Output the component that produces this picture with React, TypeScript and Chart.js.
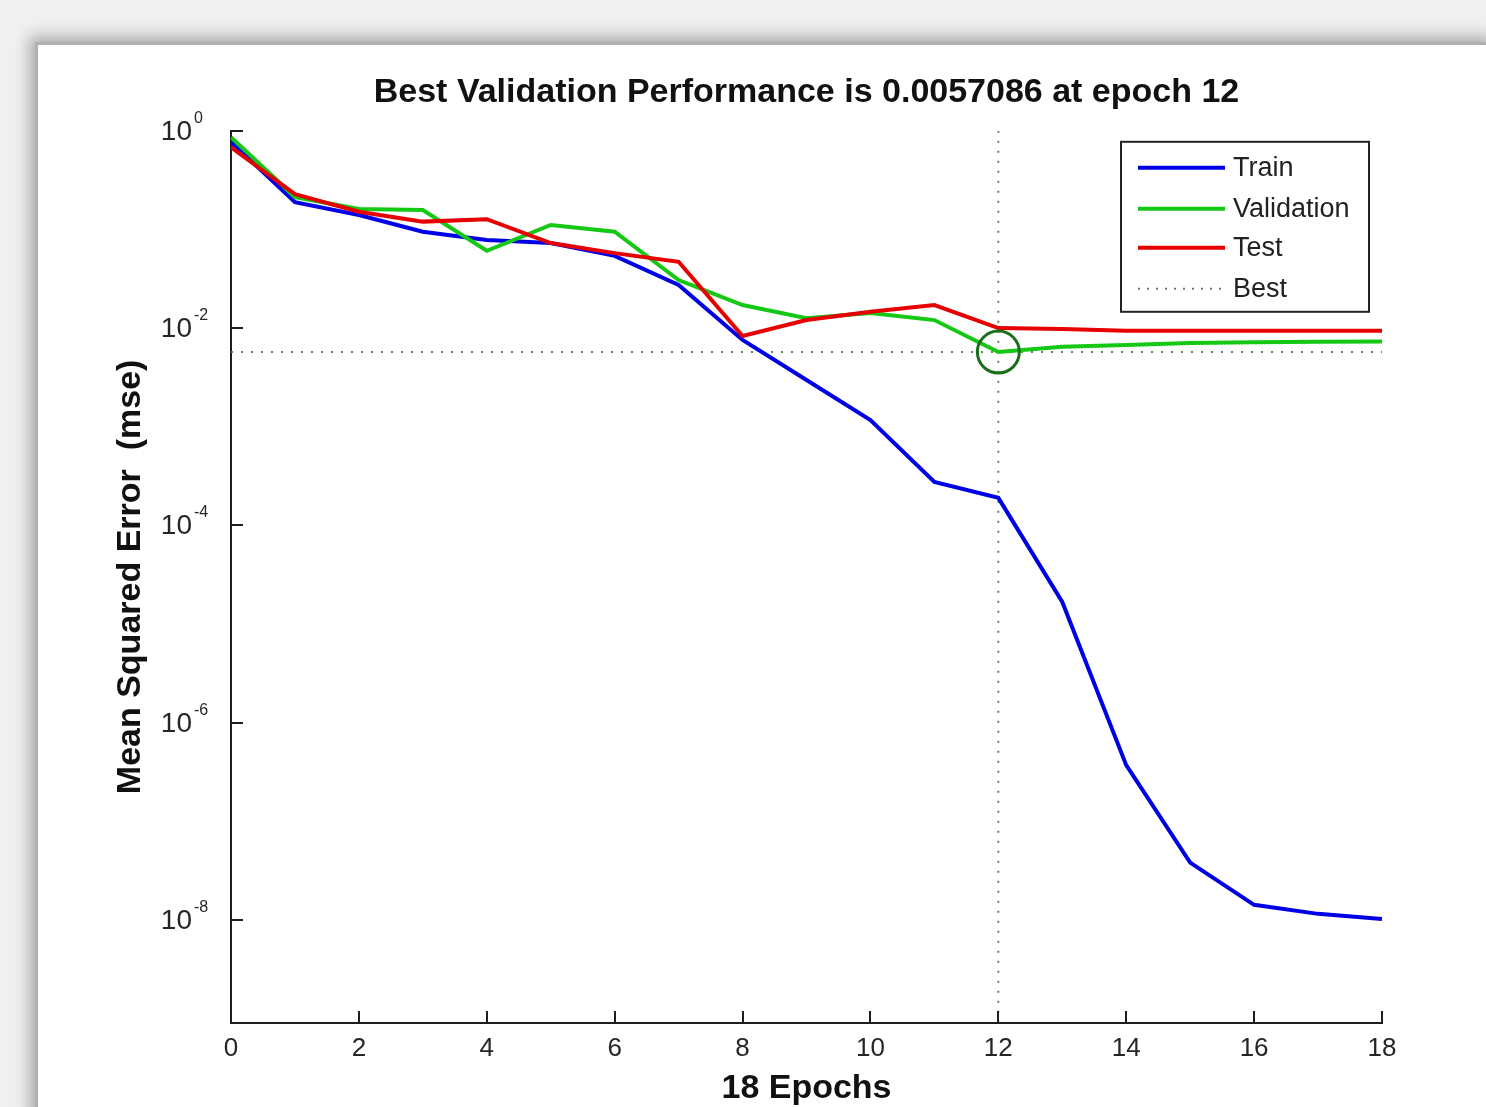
import React, { useEffect, useRef } from 'react';
import { Chart, registerables } from 'chart.js';

Chart.register(...registerables);

// ---- data ----
const epochs = [0, 1, 2, 3, 4, 5, 6, 7, 8, 9, 10, 11, 12, 13, 14, 15, 16, 17, 18];
const trainMse = [0.77, 0.189, 0.14, 0.0947, 0.078, 0.0727, 0.054, 0.0273, 0.00757, 0.00297, 0.00117, 0.000275, 0.00019, 1.67e-5, 3.7e-7, 3.8e-8, 1.42e-8, 1.15e-8, 1.02e-8];
const validationMse = [0.86, 0.213, 0.161, 0.157, 0.0608, 0.111, 0.0947, 0.0307, 0.0171, 0.0126, 0.0142, 0.01205, 0.0057086, 0.00647, 0.00673, 0.00705, 0.0072, 0.00727, 0.0073];
const testMse = [0.68, 0.228, 0.151, 0.12, 0.127, 0.0727, 0.0575, 0.047, 0.0083, 0.01205, 0.01466, 0.0171, 0.01, 0.0098, 0.0094, 0.0094, 0.0094, 0.0094, 0.0094];
const bestEpoch = 12;
const bestPerf = 0.0057086;
const xTicks = [0, 2, 4, 6, 8, 10, 12, 14, 16, 18];
const yTickValues = [1e-8, 1e-6, 1e-4, 1e-2, 1];
const yTickBase = '10';
const yTickExponents = ['-8', '-6', '-4', '-2', '0'];
const legendLabels = ['Train', 'Validation', 'Test', 'Best'];
const titleText = 'Best Validation Performance is 0.0057086 at epoch 12';
const xTitle = '18 Epochs';
const yTitle = 'Mean Squared Error  (mse)';
const xMin = 0;
const xMax = 18;
const yMin = 9e-10;
const yMax = 1;

const FONT = "'Liberation Sans', Arial, Helvetica, sans-serif";
const BLUE = '#0000e6';
const GREEN = '#14c814';
const RED = '#e60000';
const BEST = 'rgba(70,125,70,0.9)';
const AXIS = '#1e1e1e';
const TICK_TEXT = '#262626';

export default function App() {
  const ref = useRef<HTMLCanvasElement>(null);

  useEffect(() => {
    const canvas = ref.current!;
    const toXY = (arr: number[]) => epochs.map((e, i) => ({ x: e, y: arr[i] }));

    const insideTicks = {
      id: 'insideTicks',
      afterDatasetsDraw(chart: any) {
        const { ctx, chartArea, scales } = chart;
        ctx.save();
        ctx.strokeStyle = AXIS;
        ctx.lineWidth = 2;
        ctx.beginPath();
        xTicks.forEach((v) => {
          const px = Math.round(scales.x.getPixelForValue(v));
          ctx.moveTo(px, chartArea.bottom);
          ctx.lineTo(px, chartArea.bottom - 12);
        });
        yTickValues.forEach((v) => {
          const py = Math.round(scales.y.getPixelForValue(v));
          ctx.moveTo(chartArea.left, py);
          ctx.lineTo(chartArea.left + 12, py);
        });
        ctx.stroke();

        // power-of-ten tick labels with raised exponent
        ctx.fillStyle = TICK_TEXT;
        ctx.textBaseline = 'alphabetic';
        yTickValues.forEach((v, i) => {
          const py = scales.y.getPixelForValue(v);
          const baseRight = chartArea.left - 39;
          ctx.font = `28px ${FONT}`;
          ctx.textAlign = 'right';
          ctx.fillText(yTickBase, baseRight, py + 9);
          ctx.font = `16px ${FONT}`;
          ctx.textAlign = 'left';
          ctx.fillText(yTickExponents[i], baseRight + 2, py - 8);
        });
        ctx.restore();
      },
    };

    const legendBox = {
      id: 'legendBox',
      afterDraw(chart: any) {
        const { ctx, chartArea } = chart;
        const w = 248;
        const h = 170;
        const x0 = chartArea.right - 13 - w;
        const y0 = chartArea.top + 11;
        ctx.save();
        ctx.fillStyle = '#ffffff';
        ctx.fillRect(x0, y0, w, h);
        ctx.strokeStyle = '#222222';
        ctx.lineWidth = 2;
        ctx.strokeRect(x0, y0, w, h);
        const colors = [BLUE, GREEN, RED, BEST];
        const rows = [26, 67, 106, 147];
        ctx.font = `27px ${FONT}`;
        ctx.textBaseline = 'middle';
        ctx.textAlign = 'left';
        legendLabels.forEach((label, i) => {
          const y = y0 + rows[i];
          ctx.beginPath();
          if (i === 3) {
            ctx.setLineDash([2, 7]);
            ctx.lineWidth = 2;
            ctx.strokeStyle = 'rgba(90,110,90,0.9)';
          } else {
            ctx.setLineDash([]);
            ctx.lineWidth = 4;
            ctx.strokeStyle = colors[i];
          }
          ctx.moveTo(x0 + 17, y);
          ctx.lineTo(x0 + 104, y);
          ctx.stroke();
          ctx.setLineDash([]);
          ctx.fillStyle = '#222222';
          ctx.fillText(label, x0 + 112, y + 1);
        });
        ctx.restore();
      },
    };

    const chart = new Chart(canvas, {
      type: 'line',
      data: {
        datasets: [
          {
            label: 'Best circle',
            type: 'scatter',
            data: [{ x: bestEpoch, y: bestPerf }],
            pointRadius: 21,
            pointStyle: 'circle',
            borderColor: '#1b6e1b',
            backgroundColor: 'rgba(0,0,0,0)',
            pointBorderWidth: 3,
            borderWidth: 3,
            order: 0,
          } as any,
          {
            label: 'Test',
            data: toXY(testMse),
            borderColor: RED,
            borderWidth: 4,
            pointRadius: 0,
            tension: 0,
            order: 1,
          },
          {
            label: 'Validation',
            data: toXY(validationMse),
            borderColor: GREEN,
            borderWidth: 4,
            pointRadius: 0,
            tension: 0,
            order: 2,
          },
          {
            label: 'Train',
            data: toXY(trainMse),
            borderColor: BLUE,
            borderWidth: 4,
            pointRadius: 0,
            tension: 0,
            order: 3,
          },
          {
            label: 'Best vertical',
            data: [{ x: bestEpoch, y: yMax }, { x: bestEpoch, y: yMin }],
            borderColor: BEST,
            borderWidth: 2,
            borderDash: [2, 8],
            pointRadius: 0,
            order: 4,
          },
          {
            label: 'Best horizontal',
            data: [{ x: xMin, y: bestPerf }, { x: xMax, y: bestPerf }],
            borderColor: BEST,
            borderWidth: 2,
            borderDash: [2, 8],
            pointRadius: 0,
            order: 4,
          },
        ],
      },
      options: {
        responsive: false,
        animation: false,
        devicePixelRatio: 1,
        layout: { padding: { left: 0, right: 104, top: 0, bottom: 0 } },
        plugins: {
          legend: { display: false },
          tooltip: { enabled: false },
          title: {
            display: true,
            text: titleText,
            fullSize: false,
            color: '#111111',
            font: { family: FONT, size: 34, weight: 'bold' },
            padding: { top: 27, bottom: 18 },
          },
        },
        scales: {
          x: {
            type: 'linear',
            min: xMin,
            max: xMax,
            afterBuildTicks: (scale: any) => {
              scale.ticks = xTicks.map((value) => ({ value }));
            },
            afterFit: (scale: any) => {
              scale.height = 84;
            },
            grid: { display: false, drawTicks: false },
            border: { display: true, color: AXIS, width: 2 },
            ticks: {
              color: TICK_TEXT,
              font: { family: FONT, size: 26 },
              padding: 10,
              maxRotation: 0,
              autoSkip: false,
            },
            title: {
              display: true,
              text: xTitle,
              color: '#111111',
              font: { family: FONT, size: 34, weight: 'bold' },
              padding: { top: 0, bottom: -2 },
            },
          },
          y: {
            type: 'logarithmic',
            min: yMin,
            max: yMax,
            afterBuildTicks: (scale: any) => {
              scale.ticks = yTickValues.map((value) => ({ value }));
            },
            afterFit: (scale: any) => {
              scale.width = 193;
            },
            grid: { display: false, drawTicks: false },
            border: { display: true, color: AXIS, width: 2 },
            ticks: { display: false },
            title: {
              display: true,
              text: yTitle,
              color: '#111111',
              font: { family: FONT, size: 34, weight: 'bold' },
              padding: { top: 72, bottom: 0 },
            },
          },
        },
      },
      plugins: [insideTicks, legendBox],
    } as any);

    return () => chart.destroy();
  }, []);

  return (
    <div
      style={{
        position: 'fixed',
        left: 0,
        top: 0,
        width: 1486,
        height: 1107,
        background: '#f0f0f0',
        overflow: 'hidden',
      }}
    >
      <div
        style={{
          position: 'absolute',
          left: 35,
          top: 42,
          width: 1460,
          height: 1080,
          background: '#ffffff',
          borderTop: '3px solid #b0b0b0',
          borderLeft: '3px solid #b0b0b0',
          boxShadow: '-6px -6px 14px rgba(0,0,0,0.28)',
        }}
      >
        <canvas ref={ref} width={1448} height={1062} style={{ position: 'absolute', left: 0, top: 0, width: 1448, height: 1062 }} />
      </div>
    </div>
  );
}
